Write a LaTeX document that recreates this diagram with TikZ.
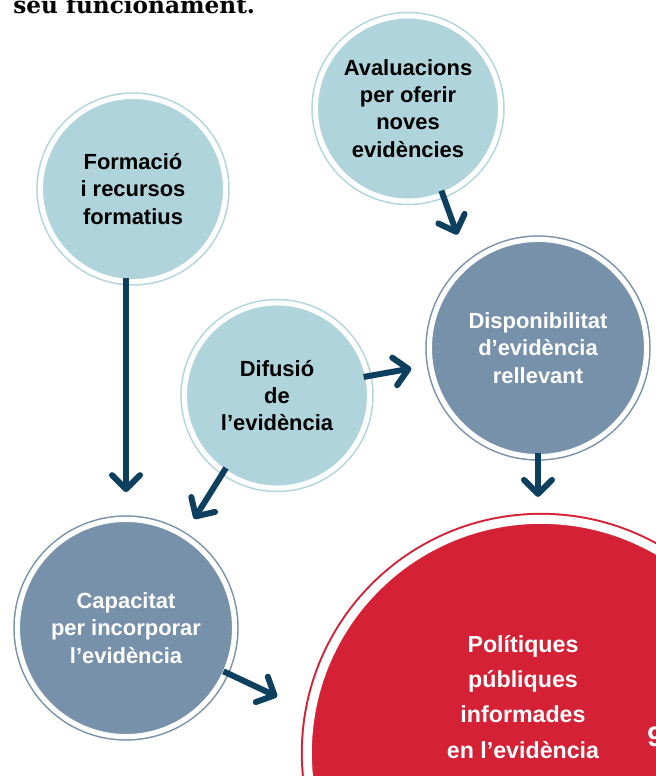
\documentclass[tikz,border=0pt]{standalone}
\usepackage{fontspec}
\setmainfont{Liberation Sans}
\newfontfamily\titlefont{DejaVu Serif}
\usetikzlibrary{arrows.meta}
\definecolor{Sky}{HTML}{AFD4DC}
\definecolor{Slate}{HTML}{7791AB}
\definecolor{Crimson}{HTML}{D52135}
\definecolor{Ink}{HTML}{0D3F5F}

\begin{document}
\begin{tikzpicture}[
  x=0.025cm, y=0.025cm,
  bubble/.style={circle,inner sep=0pt,outer sep=0pt,align=center,line width=1.07pt,double=white,double distance=0.13cm,font=\bfseries\fontsize{15.6}{19.4}\selectfont},
  bluenode/.style={bubble,fill=Sky,draw=Sky,minimum size=4.63cm,text=black},
  slatenode/.style={bubble,fill=Slate,draw=Slate,minimum size=5.43cm,text=white},
  rednode/.style={circle,inner sep=0pt,outer sep=0pt,fill=Crimson,draw=Crimson,line width=1.42pt,double=white,double distance=0.225cm,minimum size=11.68cm},
  goaltext/.style={align=center,inner sep=0pt,text=white,font=\bfseries\fontsize{16.5}{25}\selectfont},
  arrow/.style={-{Straight Barb[round,length=0.35cm,width=0.7cm]},line width=0.15cm,draw=Ink}
]
\clip (0,0) rectangle (656,776);
\node[anchor=base west,inner sep=0pt,font=\titlefont\bfseries\fontsize{16.5}{20}\selectfont] (title) at (13,762) {seu funcionament.};

\node[bluenode] (ava) at (408,667.5) {Avaluacions\\per oferir\\noves\\evidències};
\node[bluenode] (form) at (133,587) {Formació\\i recursos\\formatius};
\node[bluenode] (dif) at (277,380.5) {Difusió\\de\\l’evidència};
\node[slatenode] (disp) at (538,428) {Disponibilitat\\d’evidència\\rellevant};
\node[slatenode] (cap) at (126,148) {Capacitat\\per incorporar\\l’evidència};
\node[rednode] (pol) at (541,23) {};
\node[goaltext] (poltxt) at ([shift={(-18,56)}]pol.center) {Polítiques\\públiques\\informades\\en l’evidència};
\node[anchor=west,inner sep=0pt,text=white,font=\bfseries\fontsize{20}{24}\selectfont] (pagenum) at (647,39) {9};

\draw[arrow,shorten <=-0.1cm,shorten >=0.8cm] (ava.-68) -- (disp.130);
\draw[arrow,shorten <=-0.08cm,shorten >=0.68cm] (cap.north |- form.south) -- (cap.north);
\draw[arrow,shorten <=-0.1cm,shorten >=0.49cm] (dif.12) -- (disp.189);
\draw[arrow,shorten <=-0.1cm,shorten >=0.5cm] (dif.235) -- (cap.58);
\draw[arrow,shorten <=-0.08cm,shorten >=0.56cm] (disp.south) -- (disp.south |- pol.north);
\draw[arrow,shorten <=-0.05cm,shorten >=0.93cm] (cap.-24) -- (pol.170);
\end{tikzpicture}
\end{document}
